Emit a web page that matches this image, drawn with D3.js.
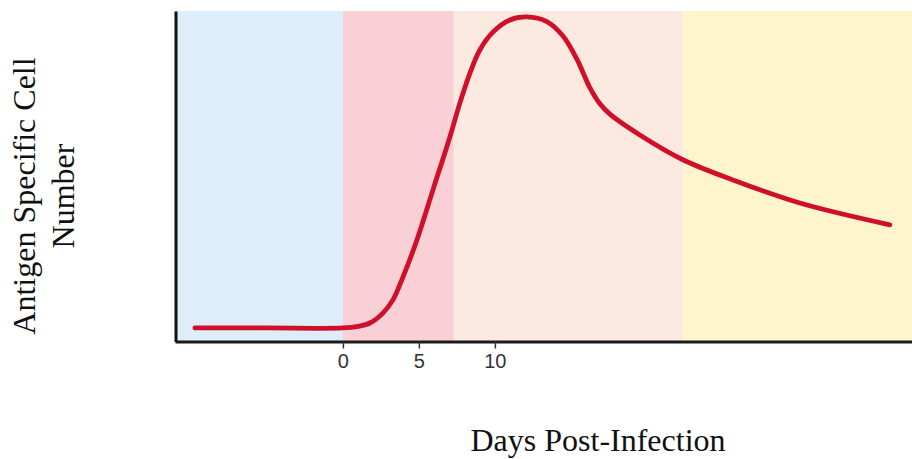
<!DOCTYPE html>
<html>
<head>
<meta charset="utf-8">
<script src="https://cdn.jsdelivr.net/npm/d3@7"></script>
<style>
  body { margin: 0; background: #fff; }
  svg { display: block; }
</style>
</head>
<body>
<div id="chart"></div>
<script>
// days post-infection vs antigen specific cell number (relative, 0-100)
var days  = [-9.74, -5, 0, 1.0, 1.78, 2.63, 3.29, 3.95, 4.87, 5.92, 7.04, 7.7, 8.36, 9.01, 9.87, 10.99, 12.11, 13.42, 14.47, 15.39, 15.79, 16.25, 16.9, 17.57, 19.54, 22.37, 25.66, 30.07, 35.99];
var cells = [4.1, 4.1, 4.1, 4.6, 5.6, 8.6, 12.6, 19.5, 30.7, 45.8, 61.9, 72.2, 81.2, 88.2, 93.6, 97.3, 98.2, 96.8, 92.5, 85.5, 81.5, 76.8, 72.0, 68.8, 62.5, 55.0, 48.9, 41.9, 35.3];

// background phases (day ranges)
var phaseStart  = [-11.05, 0, 7.3, 22.4];
var phaseEnd    = [0, 7.3, 22.4, 37.45];
var phaseColors = ["#ddedfa", "#f8d0d5", "#fce9e0", "#fef5cd"];

var tickDays = [0, 5, 10];

var width = 912, height = 459;
var margin = {top: 11, right: 0, bottom: 117, left: 175};

var svg = d3.select("#chart").append("svg")
    .attr("width", width)
    .attr("height", height);

var x = d3.scaleLinear()
    .domain([-11.05, 37.45])
    .range([margin.left, width - margin.right]);

var y = d3.scaleLinear()
    .domain([0, 100])
    .range([height - margin.bottom - 0.5, margin.top]);

// phase bands
svg.selectAll(".band")
    .data(phaseStart)
    .enter().append("rect")
    .attr("class", "band")
    .attr("x", function (d) { return x(d); })
    .attr("y", y(100))
    .attr("width", function (d, i) { return x(phaseEnd[i]) - x(d); })
    .attr("height", y(0) - y(100))
    .style("fill", function (d, i) { return phaseColors[i]; });

// the response curve
var pts = days.map(function (d, i) { return [d, cells[i]]; });
var line = d3.line()
    .x(function (d) { return x(d[0]); })
    .y(function (d) { return y(d[1]); })
    .curve(d3.curveCatmullRom.alpha(0.5));

svg.append("path")
    .datum(pts)
    .attr("d", line)
    .style("fill", "none")
    .style("stroke", "#d0102a")
    .style("stroke-width", 4.8)
    .style("stroke-linecap", "round")
    .style("stroke-linejoin", "round");

// x axis
var xAxis = svg.append("g")
    .attr("transform", "translate(0," + y(0) + ")")
    .call(d3.axisBottom(x)
        .tickValues(tickDays)
        .tickSize(7)
        .tickSizeOuter(0)
        .tickPadding(5));

xAxis.select(".domain")
    .style("stroke", "#1a1a1a")
    .style("stroke-width", 3);
xAxis.selectAll(".tick line")
    .style("stroke", "#333")
    .style("stroke-width", 1.5);
xAxis.selectAll(".tick text")
    .attr("font-family", "'Liberation Sans Narrow', 'Arial Narrow', sans-serif")
    .attr("font-size", 20)
    .attr("fill", "#333");

// y axis (line only)
var yAxis = svg.append("g")
    .attr("transform", "translate(" + (x.range()[0] + 0.5) + ",0)")
    .call(d3.axisLeft(y).tickValues([]).tickSizeOuter(0));

yAxis.select(".domain")
    .style("stroke", "#111")
    .style("stroke-width", 3);

// axis titles
svg.append("text")
    .attr("x", 598)
    .attr("y", 451)
    .attr("text-anchor", "middle")
    .attr("font-family", "'Liberation Serif', 'Times New Roman', serif")
    .attr("font-size", 32)
    .attr("fill", "#111")
    .text("Days Post-Infection");

var yTitle = svg.append("text")
    .attr("transform", "translate(35,196) rotate(-90)")
    .attr("text-anchor", "middle")
    .attr("font-family", "'Liberation Serif', 'Times New Roman', serif")
    .attr("font-size", 32)
    .attr("fill", "#111");

yTitle.append("tspan").attr("x", 0).attr("y", 0).text("Antigen Specific Cell");
yTitle.append("tspan").attr("x", 0).attr("y", 39).text("Number");
</script>
</body>
</html>
